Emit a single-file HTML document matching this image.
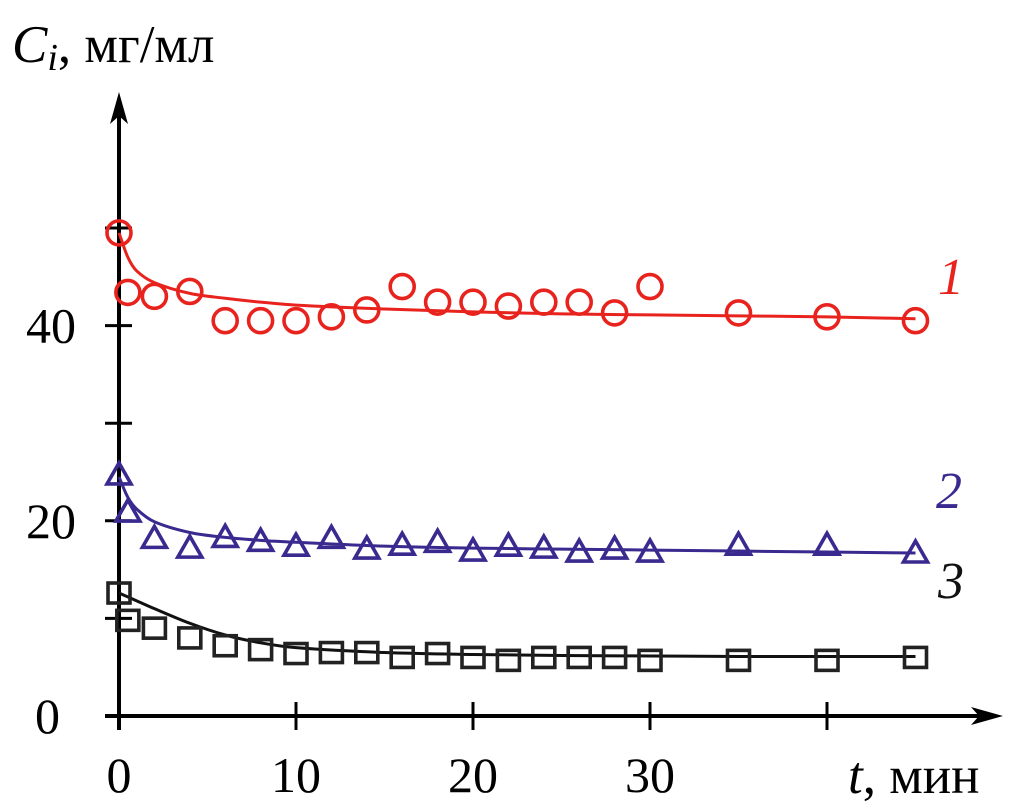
<!DOCTYPE html>
<html><head><meta charset="utf-8"><style>
html,body{margin:0;padding:0;background:#fff;width:1010px;height:804px;overflow:hidden}
text{font-family:"Liberation Serif",serif}
</style></head><body>
<svg id="chart" width="1010" height="804" viewBox="0 0 1010 804" xmlns="http://www.w3.org/2000/svg">
<g id="axes"></g>
<g id="marks"></g>
<text x="12" y="62" font-size="53"><tspan font-style="italic">C</tspan><tspan font-style="italic" font-size="38" dy="8">i</tspan><tspan dy="-8">, мг/мл</tspan></text>
<text x="848" y="793" font-size="53"><tspan font-style="italic">t</tspan>, мин</text>
<text x="938" y="294" font-size="52" font-style="italic" fill="#e8231e">1</text>
<text x="936" y="508" font-size="52" font-style="italic" fill="#3a2a8f">2</text>
<text x="938" y="598" font-size="52" font-style="italic" fill="#111">3</text>
</svg>
<script>
const tPts=[0,0.5,2,4,6,8,10,12,14,16,18,20,22,24,26,28,30,35,40,45];
const red=[49.5,43.4,43,43.5,40.5,40.5,40.5,40.9,41.6,44,42.4,42.4,42,42.4,42.4,41.3,44,41.3,40.9,40.5];
const blue=[24.7,20.9,18.2,17.2,18.3,17.9,17.4,18.2,17.1,17.5,17.8,16.9,17.4,17.2,16.8,17.1,16.8,17.5,17.5,16.7];
const black=[12.6,9.8,9.0,8.0,7.2,6.8,6.4,6.5,6.5,6.0,6.4,6.0,5.7,6.0,6.0,6.0,5.7,5.7,5.7,6.0];
const tFit=[0,0.5,1,2,4,6,8,10,15,20,25,30,35,40,45];
const redFit=[49.5,47.0,45.6,44.4,43.3,42.8,42.4,42.1,41.7,41.4,41.2,41.1,41.0,40.9,40.7];
const blueFit=[24.5,22.4,21.2,19.9,18.8,18.3,18.0,17.8,17.4,17.2,17.1,17.0,16.9,16.8,16.7];
const blackFit=[12.6,12.2,11.8,11.0,9.5,8.3,7.5,7.0,6.5,6.3,6.2,6.15,6.1,6.1,6.1];
const yTicks=[0,10,20,30,40,50];
const yLabels=["0","","20","","40",""];
const xTicks=[0,10,20,30,40];
const xLabels=["0","10","20","30",""];
const X=t=>119+t*17.7;
const Y=v=>716-v*9.76;
const NS="http://www.w3.org/2000/svg";
function mk(tag,attrs,parent){const e=document.createElementNS(NS,tag);for(const k in attrs)e.setAttribute(k,attrs[k]);parent.appendChild(e);return e;}
const ax=document.getElementById('axes'), mg=document.getElementById('marks');
let e;
e=mk('line',{x1:119,y1:730,x2:119,y2:110,stroke:'#000','stroke-width':4},ax);


e=mk('polygon',{points:'119,92 110,124 119,116 128,124',fill:'#000'},ax);


e=mk('line',{x1:105,y1:716,x2:985,y2:716,stroke:'#000','stroke-width':4},ax);


e=mk('polygon',{points:'1003,716 971,707 979,716 971,725',fill:'#000'},ax);


yTicks.forEach((v,i)=>{
  e=mk('line',{x1:105,y1:Y(v),x2:132,y2:Y(v),stroke:'#000','stroke-width':3},ax);
  
  
  if(yLabels[i]){e=mk('text',{x:v===0?60:76,y:Y(v)+17,'font-size':50,'text-anchor':'end'},ax);e.textContent=yLabels[i];
  
  }
});
xTicks.forEach((v,i)=>{
  if(v>0){e=mk('line',{x1:X(v),y1:702,x2:X(v),y2:730,stroke:'#000','stroke-width':3},ax);
  
  }
  if(xLabels[i]){e=mk('text',{x:X(v),y:792,'font-size':50,'text-anchor':'middle'},ax);e.textContent=xLabels[i];
  
  }
});
function fit(vals,color,name){
  const p=tFit.map((t,i)=>[X(t),Y(vals[i])]);
  let d='M'+p[0][0]+','+p[0][1];
  for(let i=0;i<p.length-1;i++){
    const p0=p[Math.max(i-1,0)],p1=p[i],p2=p[i+1],p3=p[Math.min(i+2,p.length-1)];
    const h=p2[0]-p1[0];
    const s1=(p2[1]-p0[1])/(p2[0]-p0[0]||1), s2=(p3[1]-p1[1])/(p3[0]-p1[0]||1);
    const c1=[p1[0]+h/3,p1[1]+s1*h/3],c2=[p2[0]-h/3,p2[1]-s2*h/3];
    d+=` C${c1[0]},${c1[1]} ${c2[0]},${c2[1]} ${p2[0]},${p2[1]}`;
  }
  const el=mk('path',{d:d,fill:'none',stroke:color,'stroke-width':3},mg);
  
  
}
fit(redFit,'#e8231e','fit-line-1');
fit(blueFit,'#3a2a8f','fit-line-2');
fit(blackFit,'#111','fit-line-3');
tPts.forEach((t,i)=>{
  let c=mk('circle',{cx:X(t),cy:Y(red[i]),r:12,fill:'none',stroke:'#e8231e','stroke-width':3.6},mg);
  
  
  const x=X(t),y=Y(blue[i]);
  let tr=mk('polygon',{points:`${x},${y-12} ${x-12},${y+9} ${x+12},${y+9}`,fill:'none',stroke:'#3a2a8f','stroke-width':3.6},mg);
  
  
  let s=mk('rect',{x:X(t)-11,y:Y(black[i])-10,width:22,height:20,fill:'none',stroke:'#222','stroke-width':3.6},mg);
  
  
});
</script>
</body></html>
